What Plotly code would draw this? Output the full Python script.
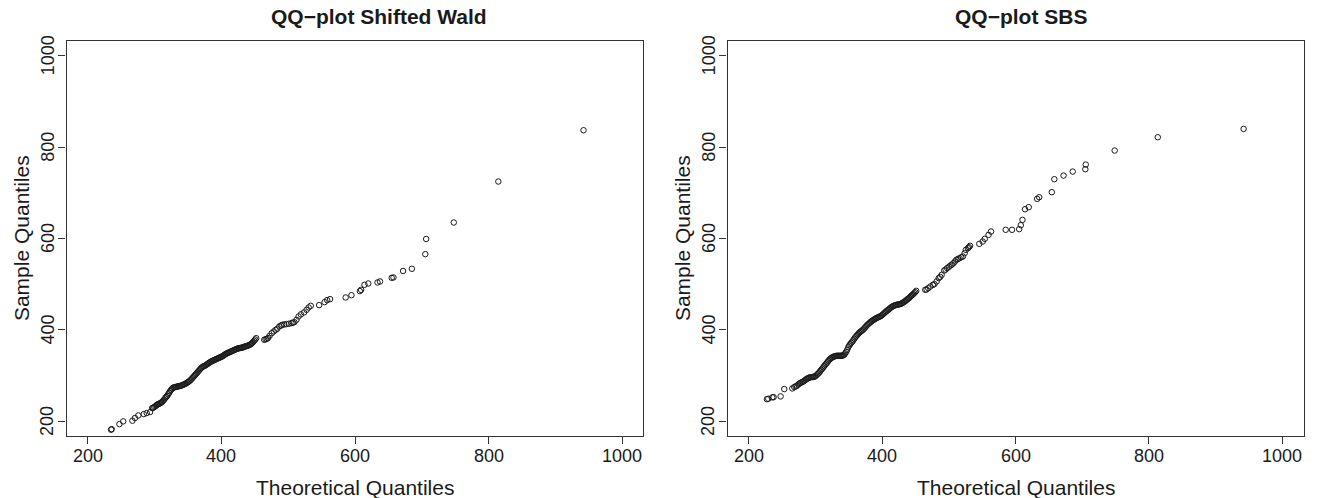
import plotly.graph_objects as go

# ---------------- data ----------------
# Left panel: QQ-plot Shifted Wald
wald_theoretical = [
    234.6, 235.5, 247.1, 252.8, 266.6, 270.4, 275.4, 283.6, 288.0, 293.0,
    296.2, 297.5, 299.3, 301.0, 302.5, 303.7, 305.0, 306.5, 308.0, 309.5,
    311.0, 312.5, 314.0, 315.5, 317.0, 318.5, 320.0, 321.5, 323.0, 324.5,
    326.0, 327.5, 329.0, 330.5, 332.0, 333.5, 335.0, 336.5, 338.0, 339.5,
    341.0, 342.5, 344.0, 345.5, 347.0, 348.5, 350.0, 351.5, 353.0, 354.5,
    356.0, 357.5, 359.0, 360.5, 362.0, 363.5, 365.0, 366.5, 368.0, 369.5,
    371.0, 372.5, 374.0, 375.5, 377.0, 378.5, 380.0, 381.5, 383.0, 384.5,
    386.0, 387.5, 389.0, 390.5, 392.0, 393.5, 395.0, 396.5, 398.0, 399.5,
    401.0, 402.5, 404.0, 405.5, 407.0, 408.5, 410.0, 411.5, 413.0, 414.5,
    416.0, 417.5, 419.0, 420.5, 422.0, 423.5, 425.0, 426.5, 428.0, 429.5,
    431.0, 432.5, 434.0, 435.5, 437.0, 438.5, 440.0, 441.5, 443.0, 444.5,
    446.0, 447.5, 449.0, 450.5, 452.0,
    464.0, 466.0, 467.8, 469.6, 472.0, 475.3, 478.4, 481.0, 483.5, 486.6,
    489.0, 491.0, 494.0, 497.3, 501.0, 504.8, 507.0, 509.2, 512.4, 515.5,
    519.0, 523.7, 527.5, 530.6, 533.7, 546.3, 554.5, 558.3, 562.7, 586.0,
    594.7, 607.3, 609.1, 614.2, 619.9, 633.7, 637.5, 655.0, 657.6, 672.0,
    685.2, 705.3, 706.6, 748.0, 814.7, 942.3,
]
wald_sample = [
    181.8, 183.0, 194.0, 200.0, 201.5, 207.3, 213.0, 216.0, 218.2, 220.4,
    229.0, 230.0, 231.3, 233.0, 235.0, 236.4, 237.5, 238.5, 239.5, 241.0,
    242.5, 245.0, 247.5, 250.5, 253.0, 255.5, 259.0, 262.5, 266.0, 269.0,
    271.5, 273.5, 274.5, 275.0, 275.5, 276.0, 276.5, 277.0, 277.5, 278.0,
    279.0, 280.0, 281.0, 282.0, 283.0, 284.5, 286.0, 287.5, 289.5, 291.5,
    294.0, 296.5, 299.0, 301.5, 304.0, 306.5, 309.0, 311.5, 314.0, 316.5,
    318.5, 320.0, 321.0, 322.0, 323.5, 325.0, 326.5, 328.0, 329.5, 331.0,
    332.0, 333.0, 334.0, 335.0, 336.0, 337.0, 338.0, 339.0, 340.0, 341.0,
    342.0, 343.5, 345.0, 346.5, 348.0, 349.0, 350.0, 351.0, 352.0, 353.0,
    354.0, 355.0, 356.0, 357.0, 358.0, 359.0, 359.5, 360.0, 360.5, 361.0,
    361.5, 362.0, 363.0, 364.0, 364.5, 365.0, 366.0, 367.0, 368.0, 369.5,
    371.5, 374.0, 376.5, 379.0, 382.0,
    378.5, 379.5, 380.5, 382.2, 387.0, 393.0, 396.7, 400.0, 402.6, 407.7,
    409.5, 411.3, 412.0, 412.7, 413.5, 415.0, 416.0, 417.0, 422.2, 429.5,
    434.0, 438.3, 444.0, 449.2, 452.8, 454.3, 460.8, 465.2, 467.4, 471.0,
    476.0, 484.9, 487.8, 498.7, 501.6, 503.8, 506.0, 514.0, 514.8, 529.0,
    533.7, 565.8, 599.0, 635.0, 724.6, 836.8,
]

# Right panel: QQ-plot SBS
sbs_theoretical = [
    227.0, 229.0, 235.0, 237.0, 247.5, 253.0, 265.0, 268.0, 270.0, 272.0,
    274.0, 275.5, 277.0, 279.0, 280.5, 282.0, 283.5, 285.0, 286.5, 288.0,
    289.5, 291.0, 293.0, 295.0,
    296.5, 298.0, 299.5, 301.0, 302.5, 304.0, 305.5, 307.0, 308.5, 310.0,
    311.5, 313.0, 314.5, 316.0, 317.5, 319.0, 320.5, 322.0, 323.5, 325.0,
    326.5, 328.0, 329.5, 331.0, 332.5, 334.0, 335.5, 337.0, 338.5, 340.0,
    341.5, 343.0, 344.5, 346.0, 347.5, 349.0, 350.5, 352.0, 353.5, 355.0,
    356.5, 358.0, 359.5, 361.0, 362.5, 364.0, 365.5, 367.0, 368.5, 370.0,
    371.5, 373.0, 374.5, 376.0, 377.5, 379.0, 380.5, 382.0, 383.5, 385.0,
    386.5, 388.0, 389.5, 391.0, 392.5, 394.0, 395.5, 397.0, 398.5, 400.0,
    401.5, 403.0, 404.5, 406.0, 407.5, 409.0, 410.5, 412.0, 413.5, 415.0,
    416.5, 418.0, 419.5, 421.0, 422.5, 424.0, 425.5, 427.0, 428.5, 430.0,
    431.5, 433.0, 434.5, 436.0, 437.5, 439.0, 440.5, 442.0, 443.5, 445.0,
    446.5, 448.0, 449.5, 451.0,
    464.6, 466.5, 469.0, 472.1, 476.0, 478.4, 481.6, 484.7, 487.0, 489.1,
    492.9, 495.0, 497.3, 500.0, 502.3, 504.5, 506.7, 509.0, 511.1, 513.5,
    516.0, 518.5, 521.0, 523.6, 525.5, 528.7, 530.0, 531.8, 545.6, 550.7,
    553.8, 559.5, 563.2, 585.2, 594.7, 605.4, 607.9, 610.4, 614.2, 619.8,
    632.4, 635.5, 654.4, 658.2, 672.0, 685.8, 704.7, 705.3, 748.7, 813.4,
    942.2,
]
sbs_sample = [
    248.5, 249.5, 252.5, 253.0, 254.6, 270.7, 272.0, 275.0, 276.5, 278.0,
    280.5, 282.5, 284.0, 285.3, 286.3, 287.8, 289.3, 291.0, 292.8, 294.0,
    295.0, 296.0, 296.5, 297.0,
    297.2, 297.8, 298.5, 300.5, 302.7, 304.7, 307.0, 310.0, 312.8, 315.3,
    318.0, 321.0, 324.0, 326.3, 329.0, 332.0, 334.7, 336.7, 338.5, 340.0,
    341.2, 342.0, 342.7, 343.2, 343.5, 343.5, 343.5, 343.5, 343.5, 343.8,
    344.5, 346.0, 349.0, 352.5, 356.7, 362.0, 365.8, 369.0, 371.8, 374.3,
    377.2, 380.7, 383.8, 386.3, 388.8, 391.3, 393.7, 395.7, 397.5, 399.0,
    400.8, 403.3, 405.8, 408.3, 410.7, 412.7, 414.7, 416.7, 418.5, 420.0,
    421.5, 423.0, 424.4, 425.7, 426.8, 427.8, 428.8, 429.8, 431.0, 432.8,
    434.7, 436.7, 438.7, 440.7, 442.5, 444.0, 445.7, 447.7, 449.5, 451.0,
    452.3, 453.3, 454.2, 454.7, 455.2, 455.7, 456.2, 456.7, 457.4, 458.7,
    460.0, 461.5, 463.0, 464.8, 466.6, 468.3, 470.2, 472.5, 474.6, 476.3,
    478.3, 480.5, 482.8, 485.5,
    487.8, 488.5, 491.4, 495.0, 498.7, 500.2, 506.0, 513.3, 516.0, 520.6,
    530.0, 532.0, 535.2, 538.0, 541.0, 543.0, 546.0, 549.5, 553.4, 555.0,
    557.0, 559.0, 560.7, 568.0, 575.2, 578.9, 581.0, 584.0, 588.3, 593.4,
    599.3, 608.0, 615.3, 619.0, 619.0, 620.4, 629.2, 640.8, 664.1, 668.5,
    686.7, 690.3, 701.3, 729.7, 737.7, 746.4, 751.5, 761.7, 792.4, 821.5,
    839.7,
]

titles = ["QQ\u2212plot Shifted Wald", "QQ\u2212plot SBS"]
x_title = "Theoretical Quantiles"
y_title = "Sample Quantiles"
tick_values = [200, 400, 600, 800, 1000]
tick_labels = ["200", "400", "600", "800", "1000"]
axis_range = [168, 1032]

# ---------------- layout geometry ----------------
W, H = 1318, 498
FONT = "Liberation Sans, Arial, Helvetica, sans-serif"
TXT = "#1a1a1a"

boxes = [(66.6, 643.4), (727.6, 1303.5)]   # pixel left/right of each plot box
box_top, box_bottom = 41, 436
title_centers = [379, 1021]

fig = go.Figure()

marker = dict(symbol="circle-open", size=5.5, color="#1a1a1a",
              line=dict(width=1, color="#1a1a1a"))

fig.add_trace(go.Scatter(x=wald_theoretical, y=wald_sample, mode="markers",
                         marker=marker, xaxis="x", yaxis="y", showlegend=False))
fig.add_trace(go.Scatter(x=sbs_theoretical, y=sbs_sample, mode="markers",
                         marker=marker, xaxis="x2", yaxis="y2", showlegend=False))

ydom = [(H - box_bottom) / H, (H - box_top) / H]

def xaxis_cfg(i, anchor):
    l, r = boxes[i]
    return dict(domain=[l / W, r / W], range=axis_range, anchor=anchor,
                tickvals=tick_values, ticks="outside", ticklen=7, tickwidth=1,
                tickcolor="#333", showline=True, linecolor="#333", linewidth=1.3,
                mirror=True, showgrid=False, zeroline=False,
                showticklabels=False)

def yaxis_cfg(anchor):
    return dict(domain=ydom, range=axis_range, anchor=anchor,
                tickvals=tick_values, ticks="outside", ticklen=7, tickwidth=1,
                tickcolor="#333", showline=True, linecolor="#333", linewidth=1.3,
                mirror=True, showgrid=False, zeroline=False,
                showticklabels=False)

annotations = []
axis_names = [("x", "y"), ("x2", "y2")]
for i in range(2):
    l, r = boxes[i]
    cx = (l + r) / 2
    xr, yr = axis_names[i]
    annotations.append(dict(text="<b>%s</b>" % titles[i], x=title_centers[i] / W,
                            y=(H - 17) / H, xref="paper", yref="paper",
                            xanchor="center", yanchor="middle", showarrow=False,
                            font=dict(family=FONT, size=21, color=TXT)))
    annotations.append(dict(text=x_title, x=cx / W, y=(H - 487) / H,
                            xref="paper", yref="paper", xanchor="center",
                            yanchor="middle", showarrow=False,
                            font=dict(family=FONT, size=21, color=TXT)))
    annotations.append(dict(text=y_title, x=(l - 45) / W,
                            y=(H - (box_top + box_bottom) / 2) / H,
                            xref="paper", yref="paper", xanchor="center",
                            yanchor="middle", textangle=-90, showarrow=False,
                            font=dict(family=FONT, size=21, color=TXT)))
    # tick labels (R style: x below, y rotated to the left)
    for v, lab in zip(tick_values, tick_labels):
        annotations.append(dict(text=lab, x=v, xref=xr, y=(H - 456) / H,
                                yref="paper", xanchor="center", yanchor="middle",
                                showarrow=False,
                                font=dict(family=FONT, size=18, color=TXT)))
        annotations.append(dict(text=lab, y=v, yref=yr, x=(l - 19) / W,
                                xref="paper", xanchor="center", yanchor="middle",
                                textangle=-90, showarrow=False,
                                font=dict(family=FONT, size=18, color=TXT)))

fig.update_layout(
    width=W, height=H, autosize=False,
    margin=dict(l=0, r=0, t=0, b=0),
    paper_bgcolor="white", plot_bgcolor="white",
    xaxis=xaxis_cfg(0, "y"), yaxis=yaxis_cfg("x"),
    xaxis2=xaxis_cfg(1, "y2"), yaxis2=yaxis_cfg("x2"),
    annotations=annotations,
)

fig.write_html("out.html")
